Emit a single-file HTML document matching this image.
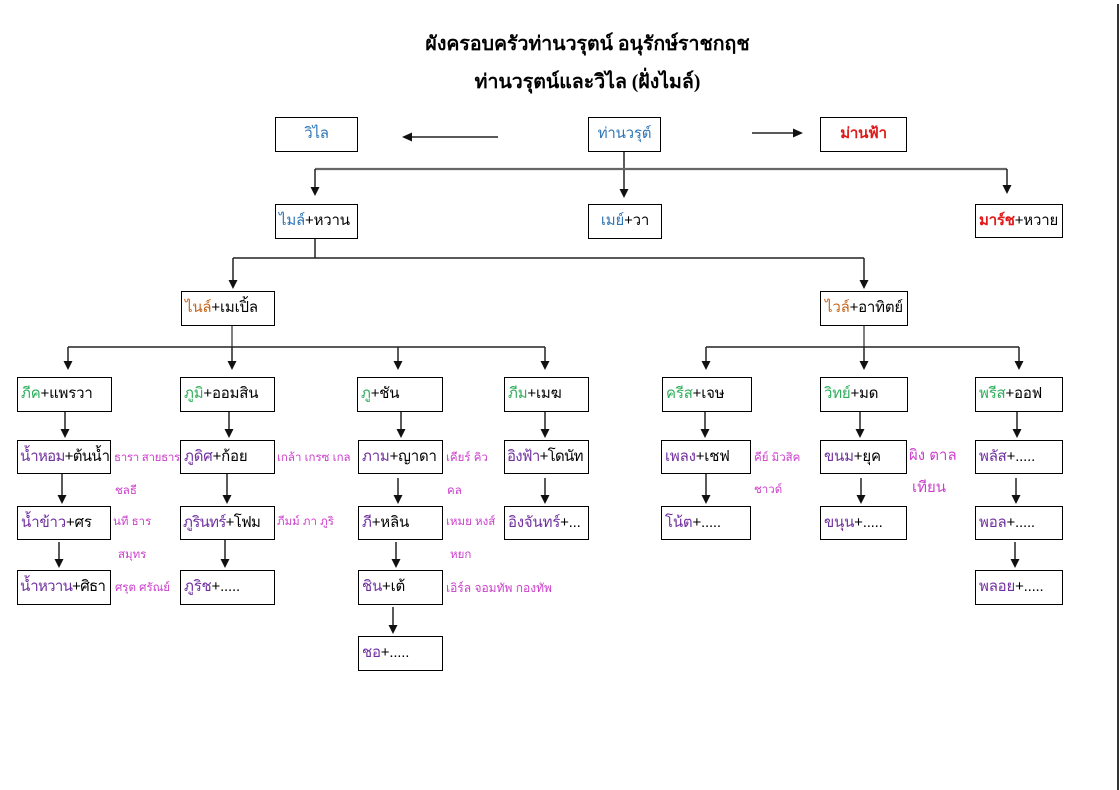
<!DOCTYPE html>
<html>
<head>
<meta charset="utf-8">
<style>
html,body{margin:0;padding:0;background:#fff;}
body{width:1120px;height:790px;position:relative;overflow:hidden;font-family:"Liberation Sans","Noto Sans CJK SC",sans-serif;}
.t{position:absolute;left:0;width:1175px;text-align:center;font-family:"Liberation Serif","Noto Serif CJK SC",serif;font-weight:bold;font-size:19.5px;color:#000;white-space:nowrap;}
.b{position:absolute;border:1px solid #000;box-sizing:border-box;background:#fff;white-space:nowrap;overflow:hidden;font-size:15px;letter-spacing:-0.2px;line-height:31px;padding-left:3px;color:#000;}
.n{letter-spacing:-0.7px;padding-left:2px;}
.c{text-align:center;padding-left:0;}
.bl{color:#2e75b6;}
.rd{color:#e01a1a;font-weight:bold;}
.or{color:#c8651e;}
.gr{color:#2fae5c;}
.pu{color:#7030a0;}
.l{position:absolute;font-size:11.5px;color:#cc3fcc;white-space:nowrap;line-height:14px;}
svg{position:absolute;left:0;top:0;}
</style>
</head>
<body>
<svg width="1120" height="790" viewBox="0 0 1120 790">
<g stroke="#222" stroke-width="1.5" fill="none">
<line x1="498" y1="137" x2="410" y2="137"/>
<line x1="752" y1="133" x2="795" y2="133"/>
<line x1="624" y1="151" x2="624" y2="190"/>
<line x1="315" y1="169" x2="1007" y2="169" stroke="#666" stroke-width="2.2"/>
<line x1="315" y1="169" x2="315" y2="188"/>
<line x1="1007" y1="169" x2="1007" y2="186"/>
<line x1="315" y1="238" x2="315" y2="258"/>
<line x1="233" y1="258" x2="864" y2="258"/>
<line x1="233" y1="258" x2="233" y2="281"/>
<line x1="864" y1="258" x2="864" y2="281"/>
<line x1="232" y1="325" x2="232" y2="347" stroke="#555"/>
<line x1="68" y1="347" x2="545" y2="347"/>
<line x1="68" y1="347" x2="68" y2="362"/>
<line x1="232" y1="347" x2="232" y2="362"/>
<line x1="398" y1="347" x2="398" y2="362"/>
<line x1="545" y1="347" x2="545" y2="362"/>
<line x1="864" y1="325" x2="864" y2="347" stroke="#555"/>
<line x1="706" y1="347" x2="1019" y2="347"/>
<line x1="706" y1="347" x2="706" y2="362"/>
<line x1="864" y1="347" x2="864" y2="362"/>
<line x1="1019" y1="347" x2="1019" y2="362"/>
<line x1="65" y1="412" x2="65" y2="430"/>
<line x1="229" y1="412" x2="229" y2="430"/>
<line x1="401" y1="412" x2="401" y2="430"/>
<line x1="545" y1="412" x2="545" y2="430"/>
<line x1="705" y1="412" x2="705" y2="430"/>
<line x1="860" y1="412" x2="860" y2="430"/>
<line x1="1017" y1="412" x2="1017" y2="430"/>
<line x1="62" y1="474" x2="62" y2="496"/>
<line x1="227" y1="474" x2="227" y2="496"/>
<line x1="398" y1="478" x2="398" y2="496"/>
<line x1="545" y1="478" x2="545" y2="496"/>
<line x1="706" y1="474" x2="706" y2="496"/>
<line x1="861" y1="478" x2="861" y2="496"/>
<line x1="1016" y1="478" x2="1016" y2="496"/>
<line x1="59" y1="542" x2="59" y2="560"/>
<line x1="225" y1="539" x2="225" y2="560"/>
<line x1="396" y1="542" x2="396" y2="560"/>
<line x1="1015" y1="542" x2="1015" y2="560"/>
<line x1="393" y1="607" x2="393" y2="626"/>
<line x1="1118" y1="4" x2="1118" y2="790" stroke="#000" stroke-width="1.6"/>
</g>
<g fill="#111">
<polygon points="402,137 412,132.5 412,141.5"/>
<polygon points="803,133 793,128.5 793,137.5"/>
<polygon points="624,198 619.5,189 628.5,189"/>
<polygon points="315,196 310.5,187 319.5,187"/>
<polygon points="1007,194 1002.5,185 1011.5,185"/>
<polygon points="233,289 228.5,280 237.5,280"/>
<polygon points="864,289 859.5,280 868.5,280"/>
<polygon points="68,370 63.5,361 72.5,361"/>
<polygon points="232,370 227.5,361 236.5,361"/>
<polygon points="398,370 393.5,361 402.5,361"/>
<polygon points="545,370 540.5,361 549.5,361"/>
<polygon points="706,370 701.5,361 710.5,361"/>
<polygon points="864,370 859.5,361 868.5,361"/>
<polygon points="1019,370 1014.5,361 1023.5,361"/>
<polygon points="65,438 60.5,429 69.5,429"/>
<polygon points="229,438 224.5,429 233.5,429"/>
<polygon points="401,438 396.5,429 405.5,429"/>
<polygon points="545,438 540.5,429 549.5,429"/>
<polygon points="705,438 700.5,429 709.5,429"/>
<polygon points="860,438 855.5,429 864.5,429"/>
<polygon points="1017,438 1012.5,429 1021.5,429"/>
<polygon points="62,504 57.5,495 66.5,495"/>
<polygon points="227,504 222.5,495 231.5,495"/>
<polygon points="398,504 393.5,495 402.5,495"/>
<polygon points="545,504 540.5,495 549.5,495"/>
<polygon points="706,504 701.5,495 710.5,495"/>
<polygon points="861,504 856.5,495 865.5,495"/>
<polygon points="1016,504 1011.5,495 1020.5,495"/>
<polygon points="59,568 54.5,559 63.5,559"/>
<polygon points="225,568 220.5,559 229.5,559"/>
<polygon points="396,568 391.5,559 400.5,559"/>
<polygon points="1015,568 1010.5,559 1019.5,559"/>
<polygon points="393,634 388.5,625 397.5,625"/>
</g>
</svg>

<div class="t" style="top:28px;">ผังครอบครัวท่านวรุตน์ อนุรักษ์ราชกฤช</div>
<div class="t" style="top:66px;">ท่านวรุตน์และวิไล (ฝั่งไมล์)</div>

<div class="b c" style="left:275px;top:117px;width:83px;height:35px;"><span class="bl">วิไล</span></div>
<div class="b c" style="left:588px;top:117px;width:73px;height:35px;"><span class="bl">ท่านวรุต์</span></div>
<div class="b c" style="left:820px;top:117px;width:87px;height:35px;"><span class="rd">ม่านฟ้า</span></div>

<div class="b" style="left:275px;top:204px;width:83px;height:35px;"><span class="bl">ไมล์</span>+หวาน</div>
<div class="b c" style="left:588px;top:204px;width:74px;height:35px;"><span class="bl">เมย์</span>+วา</div>
<div class="b" style="left:975px;top:204px;width:88px;height:34px;"><span class="rd">มาร์ช</span>+หวาย</div>

<div class="b" style="left:181px;top:291px;width:94px;height:35px;"><span class="or">ไนล์</span>+เมเปิ้ล</div>
<div class="b c" style="left:820px;top:291px;width:88px;height:35px;"><span class="or">ไวล์</span>+อาทิตย์</div>

<div class="b" style="left:17px;top:377px;width:95px;height:35px;"><span class="gr">ภีค</span>+แพรวา</div>
<div class="b" style="left:180px;top:377px;width:95px;height:35px;"><span class="gr">ภูมิ</span>+ออมสิน</div>
<div class="b" style="left:357px;top:377px;width:86px;height:35px;"><span class="gr">ภู</span>+ชัน</div>
<div class="b" style="left:504px;top:377px;width:85px;height:35px;"><span class="gr">ภีม</span>+เมฆ</div>
<div class="b" style="left:662px;top:377px;width:90px;height:35px;"><span class="gr">ครีส</span>+เจษ</div>
<div class="b" style="left:820px;top:377px;width:88px;height:35px;"><span class="gr">วิทย์</span>+มด</div>
<div class="b" style="left:975px;top:377px;width:88px;height:35px;"><span class="gr">พรีส</span>+ออฟ</div>

<div class="b n" style="left:17px;top:440px;width:94px;height:34px;"><span class="pu">น้ำหอม</span>+ต้นน้ำ</div>
<div class="b" style="left:180px;top:440px;width:95px;height:34px;"><span class="pu">ภูดิศ</span>+ก้อย</div>
<div class="b" style="left:358px;top:440px;width:85px;height:34px;"><span class="pu">ภาม</span>+ญาดา</div>
<div class="b n" style="left:504px;top:440px;width:85px;height:34px;"><span class="pu">อิงฟ้า</span>+โดนัท</div>
<div class="b" style="left:661px;top:440px;width:90px;height:34px;"><span class="pu">เพลง</span>+เชฟ</div>
<div class="b" style="left:820px;top:440px;width:87px;height:34px;"><span class="pu">ขนม</span>+ยุค</div>
<div class="b" style="left:975px;top:440px;width:88px;height:34px;"><span class="pu">พลัส</span>+.....</div>

<div class="b" style="left:17px;top:506px;width:94px;height:34px;"><span class="pu">น้ำข้าว</span>+ศร</div>
<div class="b n" style="left:180px;top:506px;width:95px;height:34px;"><span class="pu">ภูรินทร์</span>+โฟม</div>
<div class="b" style="left:358px;top:506px;width:85px;height:34px;"><span class="pu">ภี</span>+หลิน</div>
<div class="b" style="left:504px;top:506px;width:85px;height:34px;"><span class="pu">อิงจันทร์</span>+...</div>
<div class="b" style="left:661px;top:506px;width:90px;height:34px;"><span class="pu">โน้ต</span>+.....</div>
<div class="b" style="left:820px;top:506px;width:87px;height:34px;"><span class="pu">ขนุน</span>+.....</div>
<div class="b" style="left:975px;top:506px;width:88px;height:34px;"><span class="pu">พอล</span>+.....</div>

<div class="b n" style="left:17px;top:570px;width:94px;height:35px;"><span class="pu">น้ำหวาน</span>+ศิธา</div>
<div class="b" style="left:180px;top:570px;width:95px;height:35px;"><span class="pu">ภูริช</span>+.....</div>
<div class="b" style="left:358px;top:570px;width:85px;height:35px;"><span class="pu">ชิน</span>+เต้</div>
<div class="b" style="left:975px;top:570px;width:88px;height:35px;"><span class="pu">พลอย</span>+.....</div>

<div class="b" style="left:358px;top:636px;width:85px;height:35px;"><span class="pu">ชอ</span>+.....</div>

<div class="l" style="left:114px;top:451px;letter-spacing:-0.3px;">ธารา สายธาร</div>
<div class="l" style="left:115px;top:484px;">ชลธี</div>
<div class="l" style="left:113px;top:515px;">นที ธาร</div>
<div class="l" style="left:118px;top:548px;">สมุทร</div>
<div class="l" style="left:115px;top:581px;">ศรุต ศรัณย์</div>
<div class="l" style="left:277px;top:451px;">เกล้า เกรซ เกล</div>
<div class="l" style="left:277px;top:515px;">ภีมม์ ภา ภูริ</div>
<div class="l" style="left:446px;top:451px;">เคียร์ คิว</div>
<div class="l" style="left:447px;top:484px;">คล</div>
<div class="l" style="left:446px;top:515px;">เหมย หงส์</div>
<div class="l" style="left:450px;top:548px;">หยก</div>
<div class="l" style="left:446px;top:581px;font-size:12px;">เอิร์ล จอมทัพ กองทัพ</div>
<div class="l" style="left:754px;top:451px;">คีย์ มิวสิค</div>
<div class="l" style="left:754px;top:483px;">ชาวด์</div>
<div class="l" style="left:909px;top:449px;font-size:15px;">ผิง ตาล</div>
<div class="l" style="left:912px;top:481px;font-size:15px;">เทียน</div>
</body>
</html>
